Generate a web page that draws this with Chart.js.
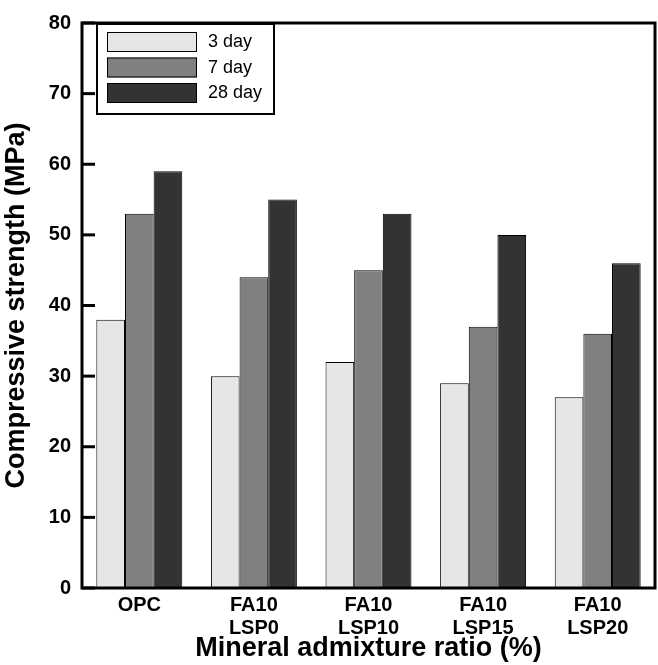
<!DOCTYPE html>
<html>
<head>
<meta charset="utf-8">
<script src="https://cdn.jsdelivr.net/npm/chart.js@4/dist/chart.umd.min.js"></script>
<style>
html,body{margin:0;padding:0;background:#fff;}
#wrap{width:658px;height:665px;position:relative;}
</style>
</head>
<body>
<div id="wrap"><canvas id="c"></canvas></div>
<script>
const categories = ['OPC', ['FA10','LSP0'], ['FA10','LSP10'], ['FA10','LSP15'], ['FA10','LSP20']];
const day3 = [38, 30, 32, 29, 27];
const day7 = [53, 44, 45, 37, 36];
const day28 = [59, 55, 53, 50, 46];
const seriesNames = ['3 day', '7 day', '28 day'];
const seriesColors = ['#e6e6e6', '#808080', '#333333'];
const yTicks = [0, 10, 20, 30, 40, 50, 60, 70, 80];

const FONT = "'Liberation Sans', Arial, sans-serif";

const framePlugin = {
  id: 'frame',
  afterDatasetsDraw(chart) {
    const ctx = chart.ctx;
    const a = chart.chartArea;
    const y = chart.scales.y;
    ctx.save();
    ctx.strokeStyle = '#000';
    ctx.lineWidth = 3;
    ctx.strokeRect(a.left, a.top, a.right - a.left, a.bottom - a.top);
    yTicks.forEach(v => {
      const py = y.getPixelForValue(v);
      ctx.beginPath();
      ctx.moveTo(a.left, py);
      ctx.lineTo(a.left + 13, py);
      ctx.stroke();
    });
    const lx = 97, ly = 24, lw = 177, lh = 90;
    ctx.fillStyle = '#fff';
    ctx.fillRect(lx, ly, lw, lh);
    ctx.lineWidth = 2;
    ctx.strokeRect(lx, ly, lw, lh);
    ctx.font = '18px ' + FONT;
    ctx.textBaseline = 'middle';
    ctx.textAlign = 'left';
    chart.data.datasets.forEach((ds, i) => {
      const sy = 32 + i * 25.5;
      ctx.fillStyle = ds.backgroundColor;
      ctx.fillRect(107, sy, 90, 20);
      ctx.lineWidth = 1;
      ctx.strokeStyle = '#000';
      ctx.strokeRect(107.5, sy + 0.5, 89, 19);
      ctx.fillStyle = '#000';
      ctx.fillText(ds.label, 208, sy + 10.5);
    });
    ctx.restore();
  }
};

const vals = [day3, day7, day28];
new Chart(document.getElementById('c'), {
  type: 'bar',
  data: {
    labels: categories,
    datasets: seriesNames.map((n, i) => ({
      label: n,
      data: vals[i],
      backgroundColor: seriesColors[i],
      borderColor: '#000',
      borderWidth: 1,
      barPercentage: 1.0,
      categoryPercentage: 0.75
    }))
  },
  options: {
    responsive: true,
    maintainAspectRatio: false,
    animation: false,
    layout: { padding: { top: 13, right: 3, left: 0, bottom: 0 } },
    plugins: { legend: { display: false }, tooltip: { enabled: false } },
    scales: {
      x: {
        grid: { display: false, drawTicks: false },
        border: { display: false },
        ticks: {
          color: '#000',
          font: { family: FONT, size: 20, weight: 'bold', lineHeight: 1.15 },
          padding: 6,
          maxRotation: 0,
          autoSkip: false
        },
        title: {
          display: true,
          text: 'Mineral admixture ratio (%)',
          color: '#000',
          font: { family: FONT, size: 27, weight: 'bold', lineHeight: 1.1 },
          padding: { top: 0, bottom: 2 }
        },
        afterFit(s) { s.height = 77; }
      },
      y: {
        min: 0, max: 80,
        afterBuildTicks(s) { s.ticks = yTicks.map(v => ({ value: v })); },
        grid: { display: false, drawTicks: false },
        border: { display: false },
        ticks: {
          color: '#000',
          font: { family: FONT, size: 20, weight: 'bold' },
          padding: 11
        },
        title: {
          display: true,
          text: 'Compressive strength (MPa)',
          color: '#000',
          font: { family: FONT, size: 27, weight: 'bold', lineHeight: 1.1 },
          padding: { top: 2, bottom: 0 }
        },
        afterFit(s) { s.width = 82; }
      }
    }
  },
  plugins: [framePlugin]
});
</script>
</body>
</html>
